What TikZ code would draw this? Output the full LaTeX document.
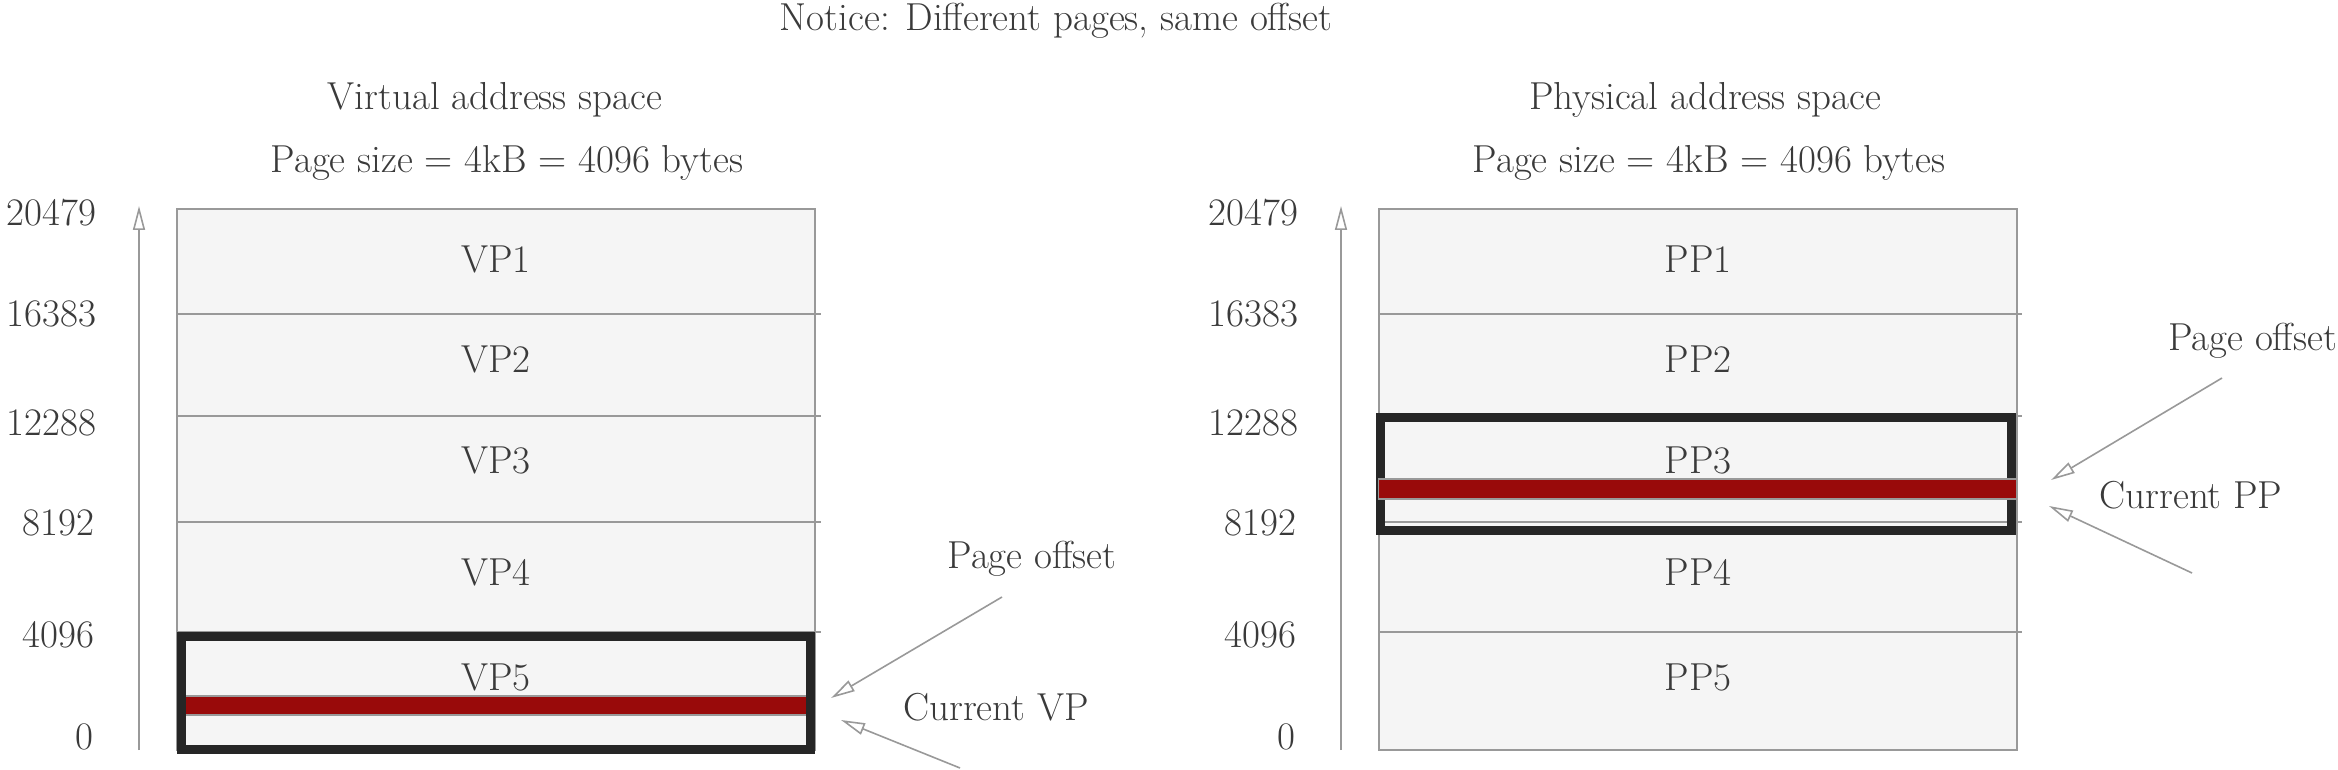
\documentclass[tikz,border=0pt]{standalone}
\usetikzlibrary{arrows.meta}
\definecolor{txt}{HTML}{3A3A3A}
\definecolor{ln}{HTML}{999999}
\definecolor{boxfill}{HTML}{F5F5F5}
\definecolor{frm}{HTML}{262626}
\definecolor{redbar}{HTML}{990A0A}
\begin{document}
\begin{tikzpicture}[x=0.5pt,y=-0.5pt,
  every node/.style={inner sep=0pt, outer sep=0pt, text=txt, font=\fontsize{19.5}{23}\selectfont},
  lbl/.style={anchor=base},
  num/.style={anchor=base east},
  pagebox/.style={draw=ln, line width=1pt, fill=boxfill},
  sep/.style={draw=ln, line width=1pt},
  frame/.style={draw=frm, line width=4.5pt},
  offbar/.style={draw=ln, line width=0.8pt, fill=redbar},
  axis/.style={draw=ln, line width=0.8pt, -{Triangle[open, length=12pt, width=6pt]}},
  pointer/.style={draw=ln, line width=0.8pt, -{Triangle[open, length=12pt, width=6pt]}}
]
\useasboundingbox (0,0) rectangle (2338,770);

% titles
\node[lbl] (notice) at (1056,31) {Notice: Different pages, same offset};
\node[lbl] (vtitle) at (495,110) {Virtual address space};
\node[lbl] (vsize) at (507,173) {Page size = 4kB = 4096 bytes};
\node[lbl] (ptitle) at (1705,110) {Physical address space};
\node[lbl] (psize) at (1709,173) {Page size = 4kB = 4096 bytes};

% ---------------- virtual ----------------
\path[pagebox] (177,209) rectangle (815,750);
\foreach \yy in {314,416,522,632} \path[sep] (177,\yy) -- (821,\yy);
\path[offbar] (177,696) rectangle (815,715);
\path[frame] (181.5,636.5) rectangle (810.5,749.5);

\node[lbl] (vp1) at (496,272) {VP1};
\node[lbl] (vp2) at (496,372) {VP2};
\node[lbl] (vp3) at (496,473) {VP3};
\node[lbl] (vp4) at (496,585) {VP4};
\node[lbl] (vp5) at (496,690) {VP5};

\coordinate (va0) at (139,750);
\coordinate (va1) at (139,206);
\path[axis] (va0) -- (va1);
\node[num] (vn1) at (96,226) {20479};
\node[num] (vn2) at (96,326) {16383};
\node[num] (vn3) at (96,435) {12288};
\node[num] (vn4) at (94,535) {8192};
\node[num] (vn5) at (94,647) {4096};
\node[num] (vn6) at (93,749) {0};

\node[lbl] (voff) at (1032,568) {Page offset};
\node[lbl] (vcur) at (996,720) {Current VP};
\coordinate (voffs) at (1002,597);
\coordinate (vofft) at (831,698);
\coordinate (vcurs) at (960,768);
\coordinate (vcurt) at (841,720);
\path[pointer] (voffs) -- (vofft);
\path[pointer] (vcurs) -- (vcurt);

% ---------------- physical ----------------
\path[pagebox] (1378.6,209) rectangle (2017,750);
\foreach \yy in {314,416,522,632} \path[sep] (1378.6,\yy) -- (2022,\yy);
\path[frame] (1380,417) rectangle (2011.5,530.5);
\path[offbar] (1378.6,479) rectangle (2017,499);

\node[lbl] (pp1) at (1698,272) {PP1};
\node[lbl] (pp2) at (1698,372) {PP2};
\node[lbl] (pp3) at (1698,473) {PP3};
\node[lbl] (pp4) at (1698,585) {PP4};
\node[lbl] (pp5) at (1698,690) {PP5};

\coordinate (pa0) at (1341,750);
\coordinate (pa1) at (1341,206);
\path[axis] (pa0) -- (pa1);
\node[num] (pn1) at (1298,226) {20479};
\node[num] (pn2) at (1298,326) {16383};
\node[num] (pn3) at (1298,435) {12288};
\node[num] (pn4) at (1296,535) {8192};
\node[num] (pn5) at (1296,647) {4096};
\node[num] (pn6) at (1295,749) {0};

\node[anchor=base east] (poff) at (2337,350) {Page offset};
\node[lbl] (pcur) at (2191,508) {Current PP};
\coordinate (poffs) at (2222,378);
\coordinate (pofft) at (2051,480);
\coordinate (pcurs) at (2192,573);
\coordinate (pcurt) at (2049,506);
\path[pointer] (poffs) -- (pofft);
\path[pointer] (pcurs) -- (pcurt);
\end{tikzpicture}
\end{document}
